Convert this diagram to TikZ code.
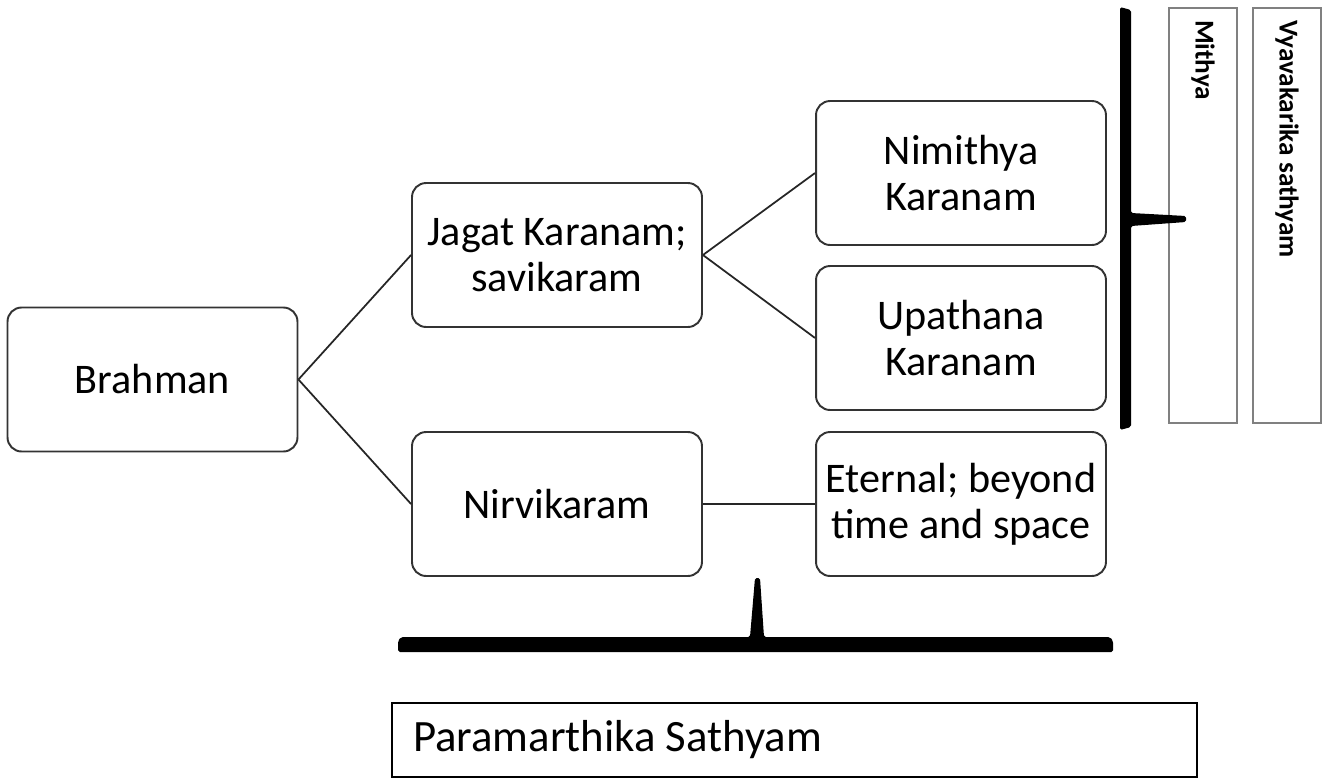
\documentclass[tikz,border=0pt]{standalone}
\usepackage{fontspec}
\setmainfont{Carlito}
\begin{document}
\begin{tikzpicture}[x=0.02cm,y=-0.02cm,
   box/.style={draw=black!80,line width=1.1pt,rounded corners=8pt,
      minimum width=5.8cm,minimum height=2.88cm,align=center,
      font=\fontsize{24}{26}\selectfont},
   vbox/.style={draw=black!50,line width=1.1pt,rotate=-90,
      minimum width=8.3cm,minimum height=1.36cm,inner xsep=0.24cm,
      text width=7.82cm,align=left,font=\fontsize{15.5}{17}\selectfont\bfseries},
   link/.style={draw=black!85,line width=1pt}]
      \useasboundingbox (0,0) rectangle (1323,778);
      \node[box] (brahman) at (152.5,379.5) {Brahman};
      \node[box] (jagat) at (557,255) {Jagat Karanam;\\savikaram};
      \node[box] (nirvi) at (557,504) {Nirvikaram};
      \node[box] (nimithya) at (961,173) {Nimithya\\Karanam};
      \node[box] (upathana) at (961,338) {Upathana\\Karanam};
      \node[box] (eternal) at (961,504) {Eternal; beyond\\time and space};
      \node[vbox] (mithya) at (1203,215.5) {Mithya};
      \node[vbox] (vyava) at (1287,215.5) {\spaceskip=0pt Vyavakarika sathyam};
      \node[draw,line width=1.4pt,minimum height=1.48cm,inner xsep=0.42cm,
         text width=15.26cm,align=left,font=\fontsize{25.5}{27}\selectfont]
         (param) at (794.5,740) {\spaceskip=0pt\raisebox{-6pt}{Paramarthika Sathyam}};
      \draw[link] (brahman.east) -- (jagat.west);
      \draw[link] (brahman.east) -- (nirvi.west);
      \draw[link] (jagat.east) -- (nimithya.west);
      \draw[link] (jagat.east) -- (upathana.west);
      \draw[link] (nirvi.east) -- (eternal.west);
      \fill[rounded corners=1pt] (1120,7) -- (1131,10) -- (1131,213) -- (1186,216)
         -- (1186,222) -- (1131,226) -- (1131,427) -- (1120,430) -- cycle;
      \fill[rounded corners=1pt] (398,641) -- (401,637) -- (750,637) -- (755,578)
         -- (760,578) -- (764,637) -- (1110,637) -- (1113,641) -- (1113,652)
         -- (398,652) -- cycle;
   \end{tikzpicture}
\end{document}
